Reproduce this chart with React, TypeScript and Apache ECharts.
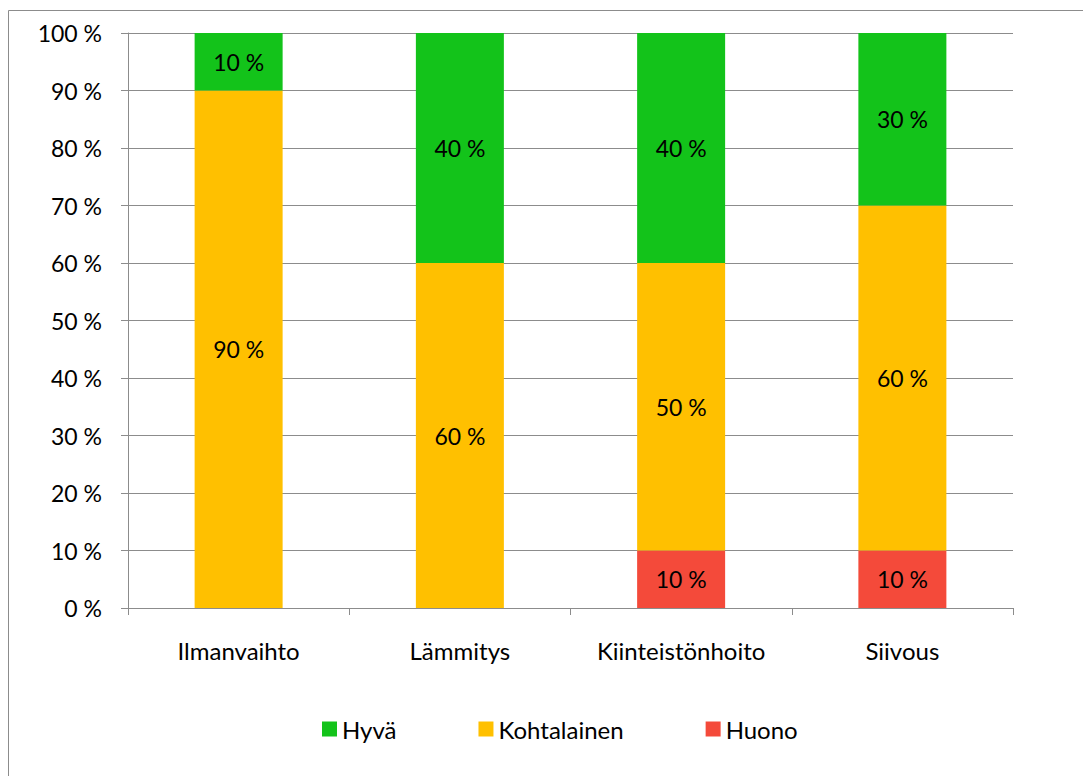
import React, { useEffect, useRef } from "react";
import * as echarts from "echarts";

const categories = ["Ilmanvaihto", "Lämmitys", "Kiinteistönhoito", "Siivous"];
const hyva = [10, 40, 40, 30];
const kohtalainen = [90, 60, 50, 60];
const huono = [0, 0, 10, 10];
const seriesNames = ["Hyvä", "Kohtalainen", "Huono"];

const FONT = "Lato";
const FS = 23;

export default function App() {
  const ref = useRef<HTMLDivElement>(null);
  useEffect(() => {
    if (!ref.current) return;
    const chart = echarts.init(ref.current, null, { renderer: "svg" });
    const label = {
      show: true,
      position: "inside",
      color: "#000",
      fontFamily: FONT,
      fontSize: FS,
      formatter: (p: any) => (p.value ? `${p.value} %` : ""),
    };
    const mk = (name: string, data: number[], color: string) => ({
      name,
      type: "bar",
      stack: "total",
      data,
      barWidth: 88,
      itemStyle: { color },
      label,
    });
    const legendWidths: Record<string, number> = { "Hyvä": 53, Kohtalainen: 128, Huono: 71 };
    chart.setOption({
      animation: false,
      backgroundColor: "#fff",
      textStyle: { fontFamily: FONT },
      graphic: [
        {
          type: "rect",
          shape: { x: 8.5, y: 10.5, width: 1300, height: 1000 },
          style: { fill: "none", stroke: "#8c8c8c", lineWidth: 1 },
          silent: true,
        },
      ],
      grid: { left: 128, top: 33, right: 70, bottom: 168, containLabel: false },
      legend: {
        data: seriesNames.map((n) => ({ name: n, textStyle: { width: legendWidths[n] } })),
        left: 317,
        top: 712,
        itemWidth: 15,
        itemHeight: 15,
        itemGap: 82,
        icon: "rect",
        textStyle: { fontFamily: FONT, fontSize: 24, color: "#000" },
      },
      xAxis: {
        type: "category",
        data: categories,
        axisLine: { show: true, lineStyle: { color: "#8c8c8c", width: 1 } },
        axisTick: { show: true, length: 7, alignWithLabel: false, lineStyle: { color: "#8c8c8c" } },
        axisLabel: { color: "#000", fontFamily: FONT, fontSize: 24, margin: 30 },
      },
      yAxis: {
        type: "value",
        min: 0,
        max: 100,
        interval: 10,
        axisLine: { show: true, lineStyle: { color: "#8c8c8c", width: 1 } },
        axisTick: { show: true, length: 7, lineStyle: { color: "#8c8c8c" } },
        axisLabel: { color: "#000", fontFamily: FONT, fontSize: FS, margin: 26, formatter: "{value} %" },
        splitLine: { show: true, lineStyle: { color: "#8c8c8c", width: 1 } },
      },
      series: [
        mk("Huono", huono, "#F44A3A"),
        mk("Kohtalainen", kohtalainen, "#FFC000"),
        mk("Hyvä", hyva, "#13C31A"),
      ],
    });
    return () => chart.dispose();
  }, []);
  return (
    <div
      ref={ref}
      style={{ position: "fixed", left: 0, top: 0, width: 1083, height: 776, overflow: "hidden" }}
    />
  );
}
